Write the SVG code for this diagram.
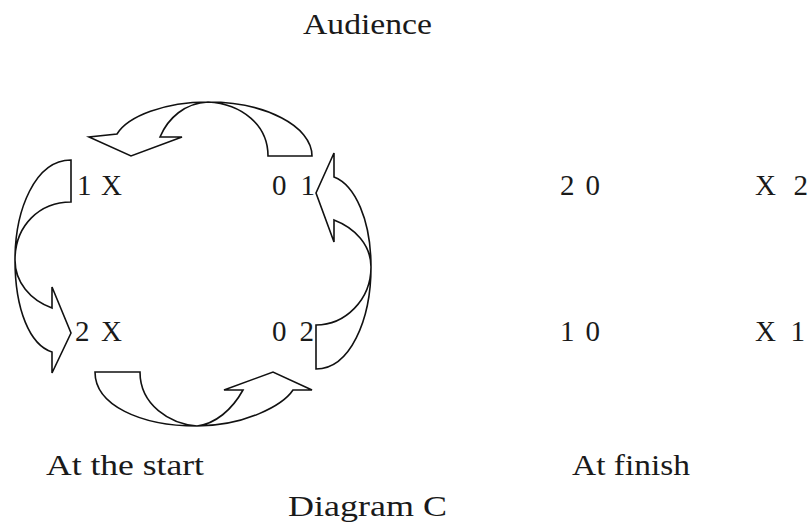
<svg xmlns="http://www.w3.org/2000/svg" width="810" height="523" viewBox="0 0 810 523">
<style>
text{font-family:"Liberation Serif","DejaVu Serif",serif;font-size:29px;fill:#1a1a1a}
.arrow{fill:none;stroke:#111;stroke-width:1.6;stroke-linejoin:miter}
</style>
<rect width="810" height="523" fill="#ffffff"/>
<g id="title"><text x="303" y="34" textLength="129" lengthAdjust="spacingAndGlyphs">Audience</text></g>
<g id="n1X"><text x="77" y="195" textLength="45" lengthAdjust="spacing">1 X</text></g>
<g id="n01"><text x="272" y="195" textLength="43" lengthAdjust="spacing">0 1</text></g>
<g id="n2X"><text x="75" y="341" textLength="47" lengthAdjust="spacing">2 X</text></g>
<g id="n02"><text x="272" y="341" textLength="42" lengthAdjust="spacing">0 2</text></g>
<g id="n20"><text x="560" y="195" textLength="40" lengthAdjust="spacing">2 0</text></g>
<g id="nX2"><text x="755" y="195" textLength="53" lengthAdjust="spacing">X 2</text></g>
<g id="n10"><text x="560" y="341" textLength="40" lengthAdjust="spacing">1 0</text></g>
<g id="nX1"><text x="755" y="341" textLength="50" lengthAdjust="spacing">X 1</text></g>
<g id="start"><text x="46" y="475" textLength="158" lengthAdjust="spacingAndGlyphs">At the start</text></g>
<g id="finish"><text x="572" y="475" textLength="118" lengthAdjust="spacingAndGlyphs">At finish</text></g>
<g id="caption"><text x="288" y="516" textLength="159" lengthAdjust="spacingAndGlyphs">Diagram C</text></g>
<g id="connectors">
<path class="arrow" d="M312,156 C312,126 265,102 208,102 C165,102 128,116 117,134 L89,137 L131,156 L182,137 L160,137 C168,118 185,103 208,102 C242,104 268,125 268,156 Z"/>
<path class="arrow" d="M71,160 C35,160 15,210 15,260 C15,310 30,345 52,352 L52,373 L71,333 L52,287 L52,308 C30,300 15,282 15,260 C15,225 40,202 71,202 Z"/>
<path class="arrow" d="M316,369 C350,369 371,320 371,267 C371,220 355,185 334,177 L334,153 L316,193 L334,242 L334,220 C355,228 371,245 371,267 C371,300 345,325 316,325 Z"/>
<path class="arrow" d="M95,372 C95,405 140,426 197,426 C245,426 283,405 293,390 L312,390 L273,372 L224,390 L243,390 C232,410 215,424 197,426 C170,424 140,405 140,372 Z"/>
</g>
</svg>
